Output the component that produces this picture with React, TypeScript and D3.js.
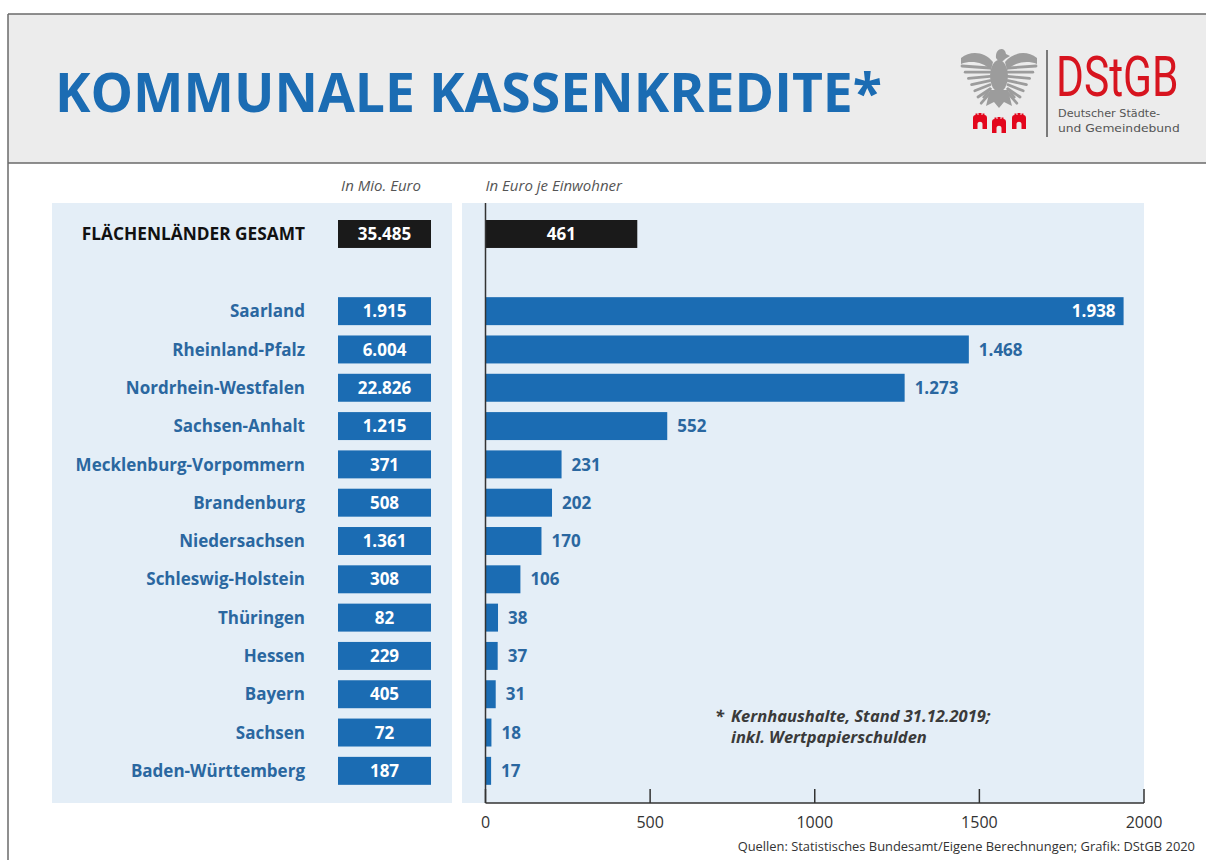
import React from "react";
import * as d3 from "d3";

const states = [
  "Saarland",
  "Rheinland-Pfalz",
  "Nordrhein-Westfalen",
  "Sachsen-Anhalt",
  "Mecklenburg-Vorpommern",
  "Brandenburg",
  "Niedersachsen",
  "Schleswig-Holstein",
  "Thüringen",
  "Hessen",
  "Bayern",
  "Sachsen",
  "Baden-Württemberg",
];
const mioEuro = [1915, 6004, 22826, 1215, 371, 508, 1361, 308, 82, 229, 405, 72, 187];
const euroPerCapita = [1938, 1468, 1273, 552, 231, 202, 170, 106, 38, 37, 31, 18, 17];
const totalLabel = "FLÄCHENLÄNDER GESAMT";
const totalMio = 35485;
const totalPerCapita = 461;
const xTicks = [0, 500, 1000, 1500, 2000];

const BLUE = "#1b6cb3";
const LABEL_BLUE = "#2a67a0";
const FONT = "'Open Sans', sans-serif";

const de = d3.formatLocale({ decimal: ",", thousands: ".", grouping: [3], currency: ["", "€"] });
const fmt = de.format(",d");

function Eagle({ x, y }: { x: number; y: number }) {
  const feathers = d3.range(7);
  const g = "#9c9c9c";
  return (
    <g transform={`translate(${x},${y})`}>
      {[-1, 1].map((s) => (
        <g key={s}>
          <path
            d={`M${s * 6},-16 C${s * 14},-26 ${s * 28},-28 ${s * 38},-20 L${s * 38},-14 C${s * 28},-18 ${s * 16},-16 ${s * 8},-8 Z`}
            fill={g}
          />
          {feathers.map((i) => (
            <line
              key={i}
              x1={s * 9}
              y1={-10 + i * 4.2}
              x2={s * (37 - i * 3.2)}
              y2={-12 + i * 6.2}
              stroke={g}
              strokeWidth={2.8}
              strokeLinecap="round"
            />
          ))}
        </g>
      ))}
      <ellipse cx={0} cy={-2} rx={9} ry={16} fill={g} />
      <path d="M-3,-20 C-4,-30 6,-32 7,-24 L11,-22 L6,-19 C4,-16 0,-15 -3,-20 Z" fill={g} />
      <path d="M-9,12 L-13,28 L-5,24 L0,30 L5,24 L13,28 L9,12 Z" fill={g} />
      <path d="M-8,10 L-16,20 M8,10 L16,20" stroke={g} strokeWidth={2.5} />
    </g>
  );
}

function Castle({ x, y, s }: { x: number; y: number; s: number }) {
  const red = "#e3061c";
  return (
    <g transform={`translate(${x},${y}) scale(${s})`}>
      <path
        d="M0,16 L0,5 C0,3 1,2 2.5,2 L2.5,0.5 L4.5,0.5 L4.5,2 L5.5,2 L5.5,0 L8.5,0 L8.5,2 L9.5,2 L9.5,0.5 L11.5,0.5 L11.5,2 C13,2 14,3 14,5 L14,16 L9.5,16 L9.5,11 C9.5,8 4.5,8 4.5,11 L4.5,16 Z"
        fill={red}
      />
    </g>
  );
}

export default function App() {
  const W = 1206;
  const H = 860;

  const y = d3
    .scaleBand<string>()
    .domain(states)
    .range([292, 790])
    .paddingInner(0.27)
    .paddingOuter(0.135);
  const bw = y.bandwidth();
  const totalY = 220;

  const x = d3.scaleLinear().domain([0, 2000]).range([485.5, 1144]);
  const axisY = 803;

  const labelX = 305;
  const boxX0 = 338;
  const boxX1 = 431;
  const boxCx = (boxX0 + boxX1) / 2;

  return (
    <svg
      width={W}
      height={H}
      style={{ position: "absolute", left: 0, top: 0, background: "#fff" }}
      fontFamily={FONT}
    >
      {/* header */}
      <rect x={8} y={14} width={W - 8} height={149} fill="#ececec" />
      <line x1={8} x2={W} y1={14} y2={14} stroke="#6a6a6a" strokeWidth={1.5} />
      <line x1={8} x2={W} y1={163} y2={163} stroke="#6a6a6a" strokeWidth={1.5} />
      <line x1={8} x2={8} y1={14} y2={H} stroke="#6a6a6a" strokeWidth={1.5} />
      <text x={55} y={112} fontSize={53.5} fontWeight={700} fill={BLUE}>
        KOMMUNALE KASSENKREDITE*
      </text>

      {/* logo */}
      <Eagle x={999} y={78} />
      <Castle x={973} y={113} s={1.0} />
      <Castle x={992} y={117} s={1.0} />
      <Castle x={1012} y={113} s={1.0} />
      <line x1={1047} x2={1047} y1={50} y2={137} stroke="#555" strokeWidth={1.5} />
      <g transform="translate(1056,96) scale(0.76,0.98)">
        <text x={0} y={0} fontFamily="Roboto, sans-serif" fontSize={56} fill="#d7141f">
          DStGB
        </text>
      </g>
      <g transform="translate(1058,117) scale(1.02,1)">
        <text x={0} y={0} fontFamily="'DejaVu Sans', sans-serif" fontSize={11} fill="#555">
          Deutscher Städte-
        </text>
      </g>
      <g transform="translate(1058,132) scale(1.12,1)">
        <text x={0} y={0} fontFamily="'DejaVu Sans', sans-serif" fontSize={11} fill="#555">
          und Gemeindebund
        </text>
      </g>

      {/* panels */}
      <rect x={52} y={203} width={400} height={axisY - 203} fill="#e4eef7" />
      <rect x={462} y={203} width={x(2000) - 462} height={axisY - 203} fill="#e4eef7" />

      {/* column headers */}
      <text x={381} y={191} fontSize={15} fontStyle="italic" fill="#555" textAnchor="middle">
        In Mio. Euro
      </text>
      <text x={x(0)} y={191} fontSize={15} fontStyle="italic" fill="#555">
        In Euro je Einwohner
      </text>

      {/* total row */}
      <text x={labelX} y={totalY + bw / 2} dy="0.36em" textAnchor="end" fontSize={17.3} fontWeight={700} fill="#111">
        {totalLabel}
      </text>
      <rect x={boxX0} y={totalY} width={boxX1 - boxX0} height={bw} fill="#1a1a1a" />
      <text x={boxCx} y={totalY + bw / 2} dy="0.36em" textAnchor="middle" fontSize={17} fontWeight={700} fill="#fff">
        {fmt(totalMio)}
      </text>
      <rect x={x(0)} y={totalY} width={x(totalPerCapita) - x(0)} height={bw} fill="#1a1a1a" />
      <text
        x={(x(0) + x(totalPerCapita)) / 2}
        y={totalY + bw / 2}
        dy="0.36em"
        textAnchor="middle"
        fontSize={17}
        fontWeight={700}
        fill="#fff"
      >
        {fmt(totalPerCapita)}
      </text>

      {/* state rows */}
      {states.map((s, i) => {
        const yy = y(s) as number;
        const cy = yy + bw / 2;
        const v = euroPerCapita[i];
        const xe = x(v);
        const inside = xe > 1050;
        return (
          <g key={s}>
            <text x={labelX} y={cy} dy="0.36em" textAnchor="end" fontSize={17} fontWeight={700} fill={LABEL_BLUE}>
              {s}
            </text>
            <rect x={boxX0} y={yy} width={boxX1 - boxX0} height={bw} fill={BLUE} />
            <text x={boxCx} y={cy} dy="0.36em" textAnchor="middle" fontSize={17} fontWeight={700} fill="#fff">
              {fmt(mioEuro[i])}
            </text>
            <rect x={x(0)} y={yy} width={xe - x(0)} height={bw} fill={BLUE} />
            <text
              x={inside ? xe - 8 : xe + 10}
              y={cy}
              dy="0.36em"
              textAnchor={inside ? "end" : "start"}
              fontSize={17}
              fontWeight={700}
              fill={inside ? "#fff" : LABEL_BLUE}
            >
              {fmt(v)}
            </text>
          </g>
        );
      })}

      {/* axes */}
      <line x1={x(0)} x2={x(0)} y1={203} y2={axisY} stroke="#333" strokeWidth={1.5} />
      <line x1={x(0)} x2={x(2000)} y1={axisY} y2={axisY} stroke="#333" strokeWidth={1.5} />
      {xTicks.map((t) => (
        <g key={t}>
          <line x1={x(t)} x2={x(t)} y1={axisY - 14} y2={axisY} stroke="#333" strokeWidth={1.5} />
          <text x={x(t)} y={axisY + 19} dy="0.36em" textAnchor="middle" fontSize={16} fill="#333">
            {t}
          </text>
        </g>
      ))}

      {/* footnote */}
      <text x={715} y={722} fontSize={16.5} fontStyle="italic" fontWeight={700} fill="#3a3a3a">
        *
      </text>
      <text x={731} y={722} fontSize={16.5} fontStyle="italic" fontWeight={700} fill="#3a3a3a">
        Kernhaushalte, Stand 31.12.2019;
      </text>
      <text x={731} y={743} fontSize={16.5} fontStyle="italic" fontWeight={700} fill="#3a3a3a">
        inkl. Wertpapierschulden
      </text>

      {/* source */}
      <text x={1195} y={851} textAnchor="end" fontSize={12.9} fill="#333">
        Quellen: Statistisches Bundesamt/Eigene Berechnungen; Grafik: DStGB 2020
      </text>
    </svg>
  );
}
